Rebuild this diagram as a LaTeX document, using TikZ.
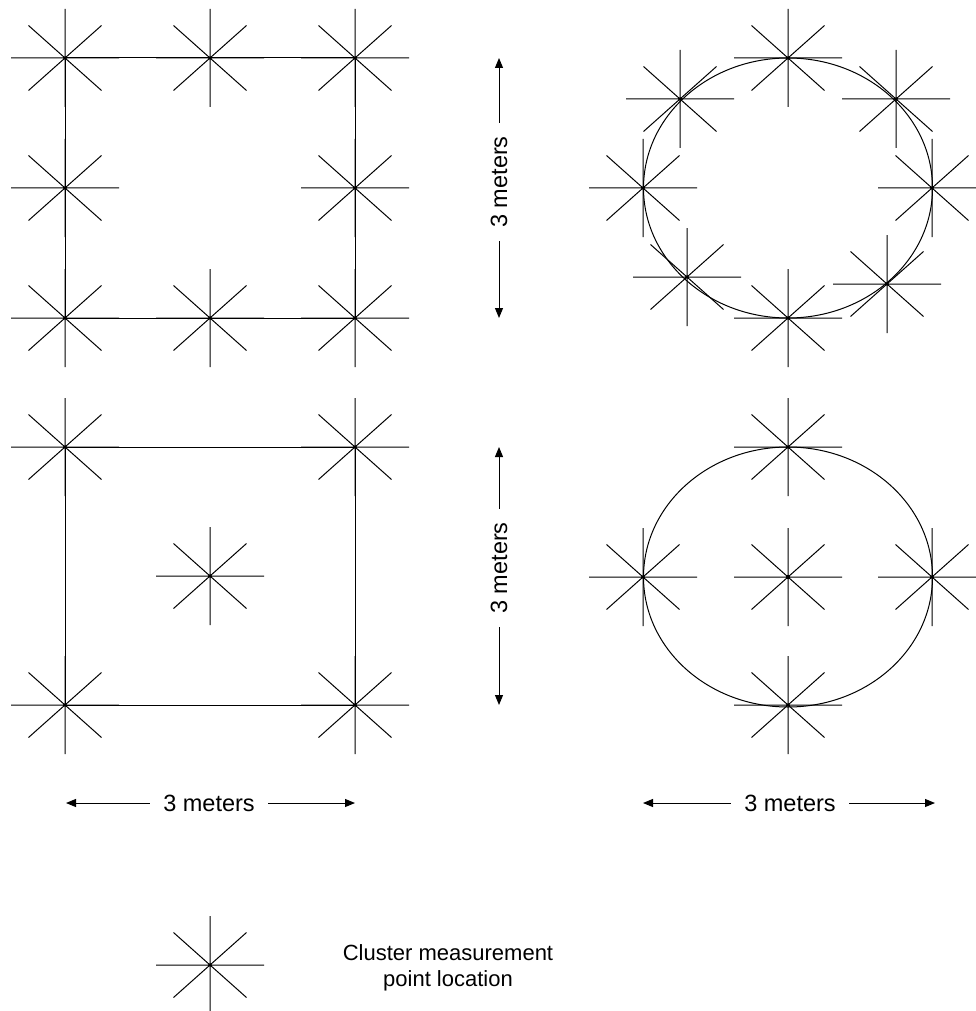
\documentclass[tikz,border=0pt]{standalone}
\usepackage{fontspec}
\setmainfont{Liberation Sans}
\usetikzlibrary{arrows.meta}
\begin{document}
\begin{tikzpicture}[x=1pt,y=-1pt,line width=1pt,
  star/.pic={\draw (-54,0)--(54,0) (0,-49)--(0,49) (-36.5,-32.5)--(36.5,32.5) (-36.5,32.5)--(36.5,-32.5);},
  arr/.style={-{Triangle[length=10pt,width=8pt]}},
  lab/.style={font=\fontsize{23.5}{28}\selectfont,inner xsep=13pt,inner ysep=2pt},
  legend/.style={font=\fontsize{22}{26}\selectfont,align=center}]
\useasboundingbox (0,0) rectangle (976,1011);
% top-left square
\coordinate (a1) at (65,58); \coordinate (a2) at (210,58); \coordinate (a3) at (355,58);
\coordinate (a4) at (65,188); \coordinate (a5) at (355,188);
\coordinate (a6) at (65,318); \coordinate (a7) at (210,318); \coordinate (a8) at (355,318);
\draw (a1) -- (a3) -- (a8) -- (a6) -- cycle;
\foreach \c in {a1,a2,a3,a4,a5,a6,a7,a8} \pic at (\c) {star};
% bottom-left square
\coordinate (b1) at (65,447); \coordinate (b2) at (355,447);
\coordinate (b3) at (65,705); \coordinate (b4) at (355,705);
\coordinate (b5) at (210,576);
\draw (b1) -- (b2) -- (b4) -- (b3) -- cycle;
\foreach \c in {b1,b2,b3,b4,b5} \pic at (\c) {star};
% top-right ellipse
\coordinate (e1) at (788,188);
\draw (e1) ellipse [x radius=144.5pt,y radius=130pt];
\coordinate (c1) at (788,58); \coordinate (c2) at (896,99); \coordinate (c3) at (932,188);
\coordinate (c4) at (887,284); \coordinate (c5) at (788,318); \coordinate (c6) at (687,277);
\coordinate (c7) at (643,188); \coordinate (c8) at (680,99);
\foreach \c in {c1,c2,c3,c4,c5,c6,c7,c8} \pic at (\c) {star};
% bottom-right ellipse
\coordinate (e2) at (788,577);
\draw (e2) ellipse [x radius=144.5pt,y radius=130pt];
\coordinate (d1) at (788,447); \coordinate (d2) at (932,577); \coordinate (d3) at (788,705);
\coordinate (d4) at (643,577);
\foreach \c in {d1,d2,d3,d4,e2} \pic at (\c) {star};
\fill (e2) circle (2.2pt);
% dimension arrows
\node[lab,rotate=90] (v1) at (499,182) {3 meters};
\coordinate (v1t) at (499,58); \coordinate (v1b) at (499,318);
\draw[arr] (v1) -- (v1t); \draw[arr] (v1) -- (v1b);
\node[lab,rotate=90] (v2) at (499,568) {3 meters};
\coordinate (v2t) at (499,447); \coordinate (v2b) at (499,705);
\draw[arr] (v2) -- (v2t); \draw[arr] (v2) -- (v2b);
\node[lab] (h1) at (209,803) {3 meters};
\coordinate (h1l) at (66,803); \coordinate (h1r) at (355,803);
\draw[arr] (h1) -- (h1l); \draw[arr] (h1) -- (h1r);
\node[lab] (h2) at (790,803) {3 meters};
\coordinate (h2l) at (643,803); \coordinate (h2r) at (935,803);
\draw[arr] (h2) -- (h2l); \draw[arr] (h2) -- (h2r);
% legend
\coordinate (lg) at (210,965);
\pic at (lg) {star};
\node[legend] (lt) at (448,968) {Cluster measurement\\point location};
\end{tikzpicture}
\end{document}
